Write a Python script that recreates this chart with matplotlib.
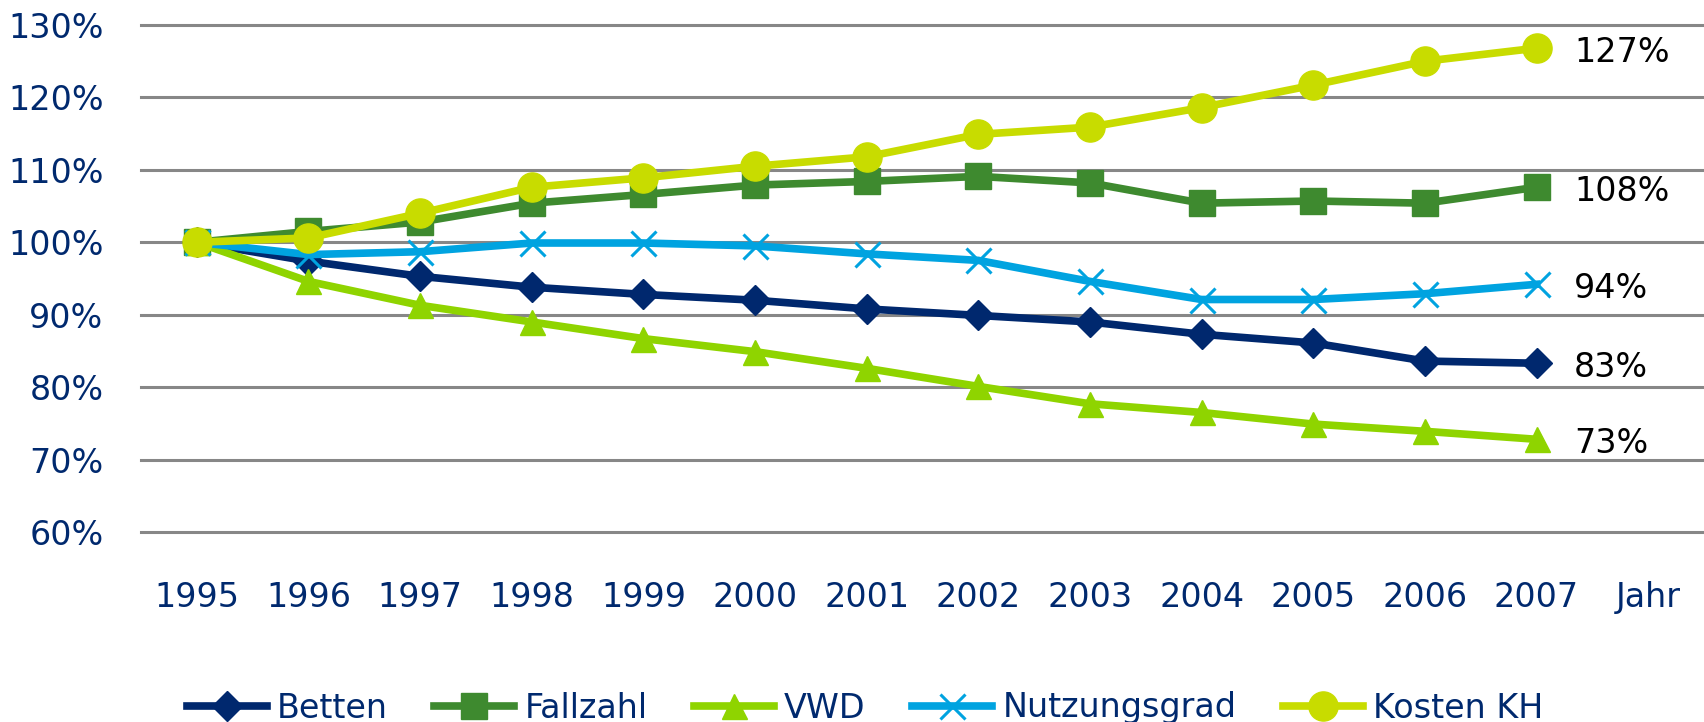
"""
Index development 1995-2007 (1995 = 100%) for hospital key figures
"""
import matplotlib.pyplot as plt

years = ["1995", "1996", "1997", "1998", "1999", "2000", "2001",
         "2002", "2003", "2004", "2005", "2006", "2007"]
x_labels = years + ["Jahr"]

betten = [100, 97.4, 95.3, 93.8, 92.8, 92.0, 90.8, 89.9, 89.0, 87.3, 86.1, 83.6, 83.3]
fallzahl = [100, 101.5, 102.8, 105.4, 106.6, 107.9, 108.4, 109.1, 108.2, 105.4, 105.7, 105.4, 107.6]
vwd = [100, 94.6, 91.3, 89.0, 86.7, 84.9, 82.6, 80.1, 77.7, 76.5, 74.9, 73.9, 72.8]
nutzungsgrad = [100, 98.3, 98.7, 99.9, 99.9, 99.5, 98.4, 97.5, 94.6, 92.1, 92.1, 92.9, 94.2]
kosten_kh = [100, 100.6, 104.0, 107.6, 108.9, 110.5, 111.8, 114.9, 115.9, 118.6, 121.7, 125.0, 126.8]

series = [
    ("Betten", betten, "#00286e", "D", 15),
    ("Fallzahl", fallzahl, "#3e8a2f", "s", 19),
    ("VWD", vwd, "#8fd400", "^", 18),
    ("Nutzungsgrad", nutzungsgrad, "#00a3e0", "x", 18),
    ("Kosten KH", kosten_kh, "#c8dc00", "o", 21),
]

navy = "#00296e"
plt.rcParams["font.family"] = ["DejaVu Sans"]

fig = plt.figure(figsize=(17.04, 7.22), dpi=100)
ax = fig.add_axes([141 / 1704, 1 - 532 / 722, 1 - 141 / 1704, (532 - 25) / 722])

xs = list(range(len(years)))
for name, vals, color, marker, ms in series:
    if marker == "x":
        ax.plot(xs, vals, color=color, lw=5.5, marker=marker, ms=ms,
                mew=2.2, label=name, solid_joinstyle="round")
    else:
        ax.plot(xs, vals, color=color, lw=5.5, marker=marker, ms=ms,
                mec=color, label=name, solid_joinstyle="round")
    ax.annotate(f"{vals[-1]:.0f}%", xy=(xs[-1], vals[-1]), xytext=(27, -3),
                textcoords="offset points", ha="left", va="center",
                fontsize=24, color="black")

ax.set_xlim(-0.5, len(x_labels) - 0.5)
ax.set_ylim(60, 130)
ax.set_xticks(range(len(x_labels)))
ax.set_xticklabels(x_labels)
ax.set_yticks(range(60, 131, 10))
ax.set_yticklabels([f"{v}%" for v in range(60, 131, 10)])
ax.tick_params(axis="x", length=0, pad=35, labelsize=24, labelcolor=navy)
ax.tick_params(axis="y", length=0, pad=27, labelsize=24, labelcolor=navy)
ax.grid(axis="y", color="#878787", lw=2.2)
for gl in ax.yaxis.get_gridlines():
    gl.set_clip_on(False)
ax.set_axisbelow(True)
for sp in ax.spines.values():
    sp.set_visible(False)

leg = fig.legend(loc="center", bbox_to_anchor=(865 / 1704, 1 - 708 / 722),
                 ncol=5, frameon=False, fontsize=24, handlelength=2.4,
                 handletextpad=0.3, columnspacing=1.4, borderpad=0)
for t in leg.get_texts():
    t.set_color(navy)

fig.savefig("out.png", dpi=100)
